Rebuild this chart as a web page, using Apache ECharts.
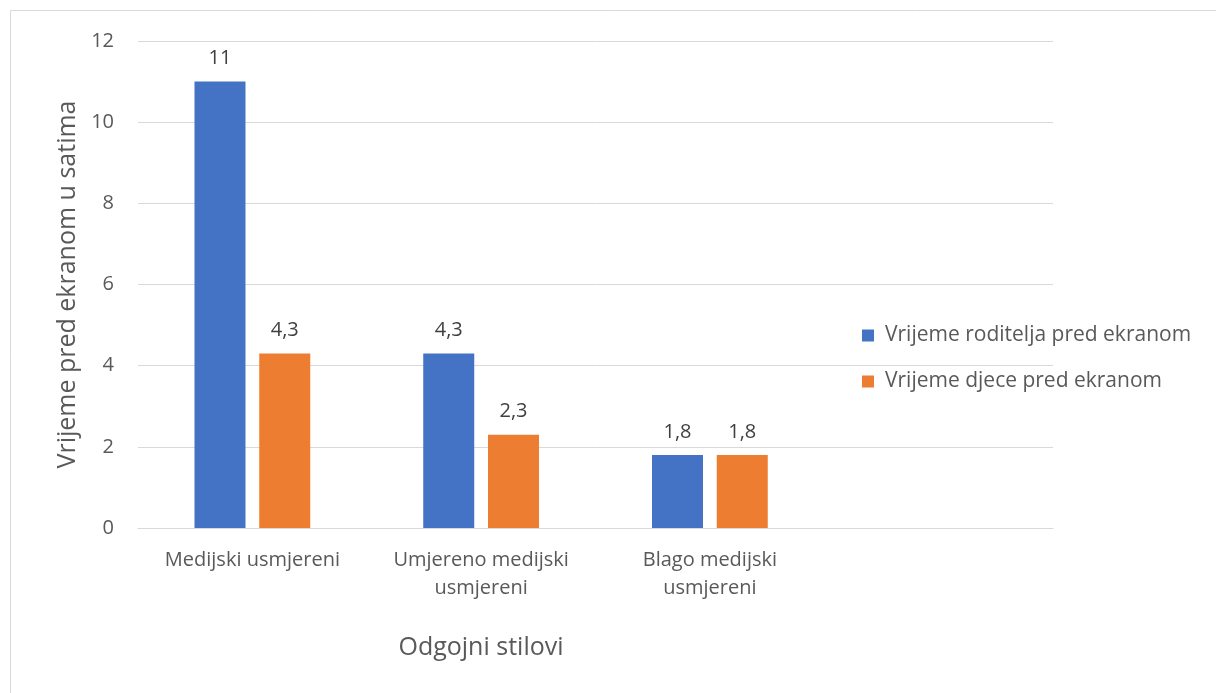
<!DOCTYPE html>
<html>
<head>
<meta charset="utf-8">
<script src="https://cdn.jsdelivr.net/npm/echarts@6/dist/echarts.min.js"></script>
<style>
  html, body { margin: 0; padding: 0; background: #fff; }
  #chart { width: 1216px; height: 693px; }
</style>
</head>
<body>
<div id="chart"></div>
<script>
// kategorije (zadnja je prazna, kao u originalu)
const categories = ['Medijski usmjereni', 'Umjereno medijski\nusmjereni', 'Blago medijski\nusmjereni', ''];
const roditelji = [11, 4.3, 1.8, null];
const djeca = [4.3, 2.3, 1.8, null];
const seriesNames = ['Vrijeme roditelja pred ekranom', 'Vrijeme djece pred ekranom'];

const FONT = 'Open Sans';
const labelFmt = p => String(p.value).replace('.', ',');

const chart = echarts.init(document.getElementById('chart'));
chart.setOption({
  animation: false,
  textStyle: { fontFamily: FONT },
  graphic: [{
    type: 'rect',
    shape: { x: 10.5, y: 10.5, width: 1300, height: 800 },
    style: { fill: 'none', stroke: '#d9d9d9', lineWidth: 1 },
    silent: true
  }, {
    // naslov x osi je u originalu centriran ispod srednje kategorije
    type: 'text',
    x: 481,
    y: 648,
    style: { text: 'Odgojni stilovi', fontSize: 25, fontFamily: FONT, fill: '#595959', align: 'center', verticalAlign: 'middle' },
    silent: true
  }],
  grid: { left: 138, right: 163, top: 41, bottom: 165, containLabel: false },
  legend: {
    orient: 'vertical',
    left: 857,
    top: 320,
    itemWidth: 12,
    itemHeight: 12,
    itemGap: 25,
    icon: 'rect',
    textStyle: { fontSize: 21, color: '#595959', fontFamily: FONT, padding: [0, 0, 0, 6] },
    data: seriesNames
  },
  xAxis: {
    type: 'category',
    data: categories,
    axisLine: { lineStyle: { color: '#d9d9d9', width: 1 } },
    axisTick: { show: false },
    axisLabel: { fontSize: 20, color: '#595959', margin: 18, lineHeight: 28, interval: 0 }
  },
  yAxis: {
    type: 'value',
    min: 0,
    max: 12,
    interval: 2,
    name: 'Vrijeme pred ekranom u satima',
    nameLocation: 'middle',
    nameGap: 58,
    nameTextStyle: { fontSize: 25, color: '#595959' },
    axisLine: { show: false },
    axisTick: { show: false },
    axisLabel: { fontSize: 20, color: '#595959', margin: 24 },
    splitLine: { lineStyle: { color: '#d9d9d9', width: 1 } }
  },
  series: [
    {
      name: seriesNames[0],
      type: 'bar',
      data: roditelji,
      barWidth: 51,
      barGap: '27%',
      itemStyle: { color: '#4472c4' },
      label: { show: true, position: 'top', distance: 13, fontSize: 20, color: '#404040', formatter: labelFmt }
    },
    {
      name: seriesNames[1],
      type: 'bar',
      data: djeca,
      barWidth: 51,
      barGap: '27%',
      itemStyle: { color: '#ed7d31' },
      label: { show: true, position: 'top', distance: 13, fontSize: 20, color: '#404040', formatter: labelFmt }
    }
  ]
});
</script>
</body>
</html>
